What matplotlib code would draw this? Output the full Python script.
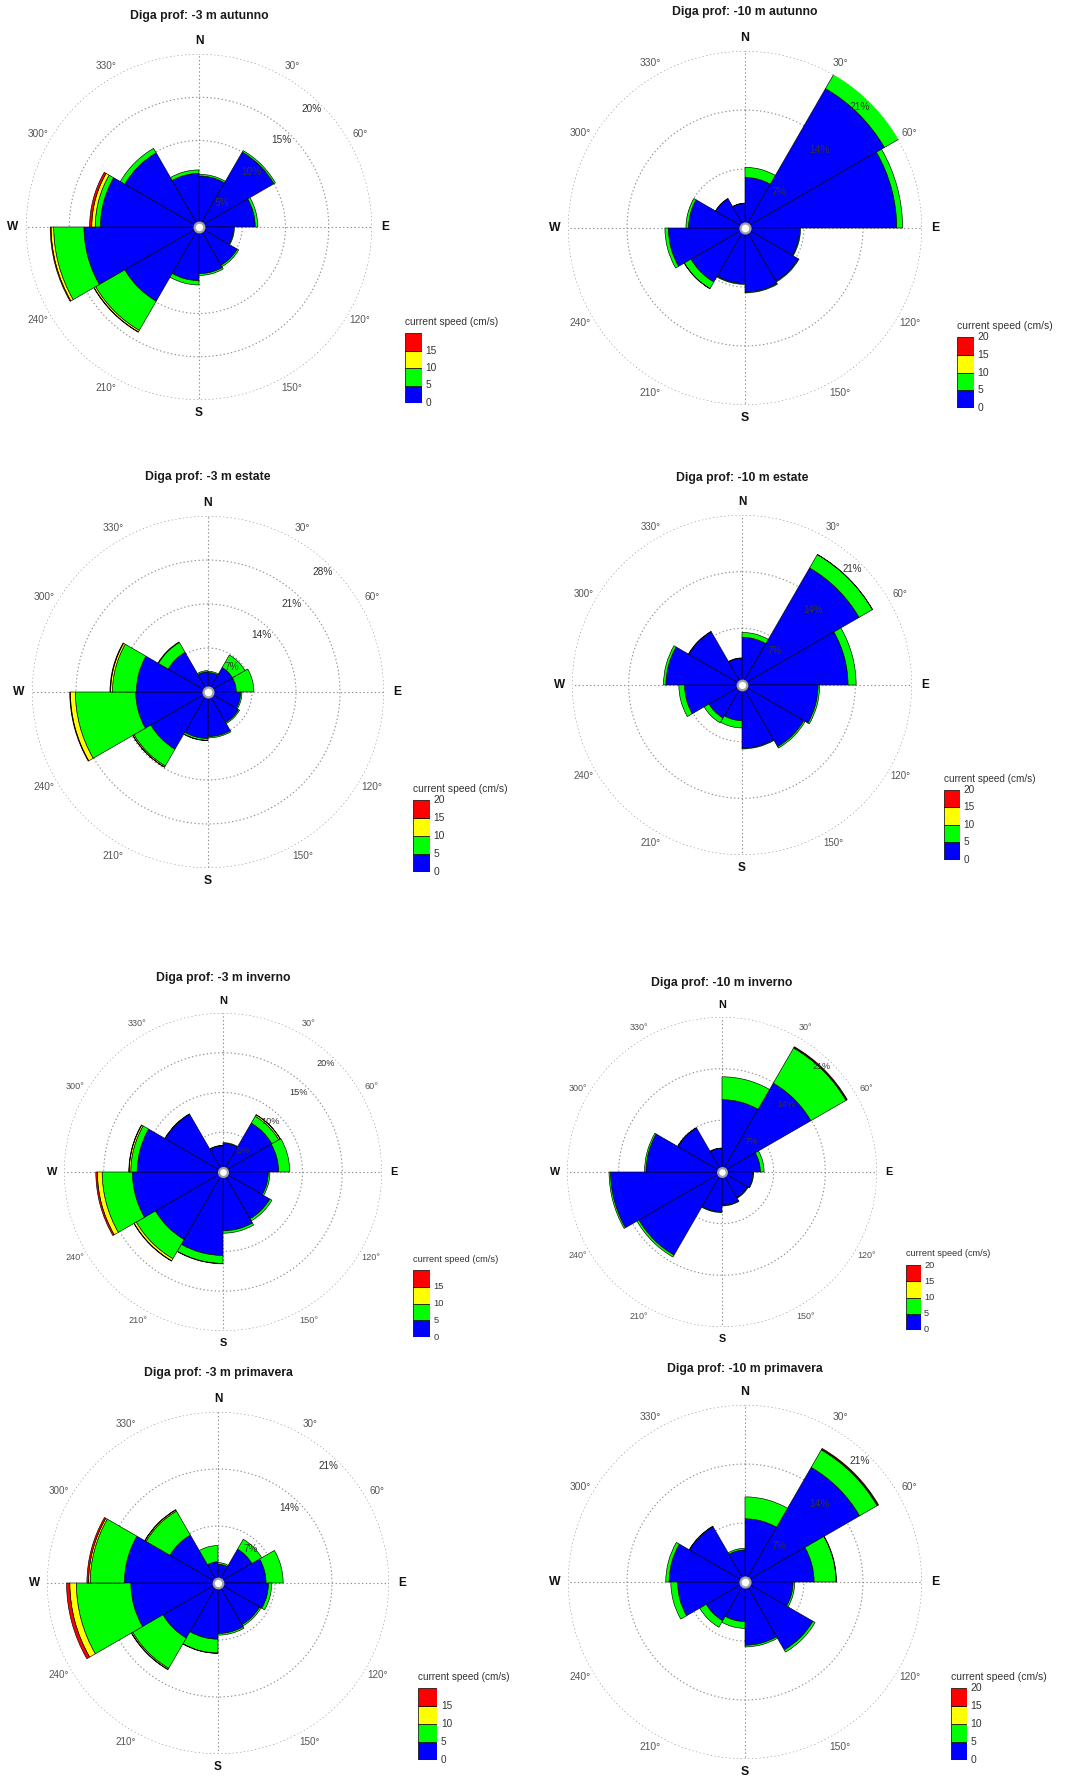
import numpy as np
import matplotlib
matplotlib.use('Agg')
import matplotlib.pyplot as plt

plt.rcParams['font.family'] = ['Liberation Sans', 'DejaVu Sans']

W, H = 1067, 1778

# ---------------- data ----------------
sector_start = list(range(0, 360, 30))          # direction sectors (deg, clockwise from N)
sector_width = 30
speed_bins = [0, 5, 10, 15, 20]                  # current speed classes (cm/s)
speed_colors = ['#0000ff', '#00ff00', '#ffff00', '#ff0000']
cardinal_labels = {0: 'N', 90: 'E', 180: 'S', 270: 'W'}
degree_ticks = [30, 60, 120, 150, 210, 240, 300, 330]

titles = ['Diga prof: -3 m autunno', 'Diga prof: -10 m autunno',
          'Diga prof: -3 m estate', 'Diga prof: -10 m estate',
          'Diga prof: -3 m inverno', 'Diga prof: -10 m inverno',
          'Diga prof: -3 m primavera', 'Diga prof: -10 m primavera']

# frequency (%) per sector and speed class
aut3_0_5   = [5.9, 10.0, 6.5, 4.0, 5.1, 5.4, 6.2, 9.9, 13.3, 11.4, 9.9, 6.2]
aut3_5_10  = [0.2, 0.2, 0.3, 0.1, 0.2, 0.2, 0.5, 3.9, 3.5, 0.6, 0.6, 0.4]
aut3_10_15 = [0, 0, 0, 0, 0, 0, 0, 0.2, 0.3, 0.4, 0, 0]
aut3_15_20 = [0, 0, 0, 0, 0, 0, 0, 0.05, 0.1, 0.25, 0, 0]

aut10_0_5   = [6.0, 19.1, 18.0, 6.5, 7.3, 7.6, 6.6, 7.4, 9.1, 6.7, 4.0, 2.9]
aut10_5_10  = [1.2, 2.0, 0.7, 0.1, 0.1, 0.1, 0.1, 0.9, 0.4, 0.3, 0.05, 0.05]
aut10_10_15 = [0, 0.05, 0, 0, 0, 0, 0, 0.03, 0, 0, 0, 0]
aut10_15_20 = [0, 0, 0, 0, 0, 0, 0, 0, 0, 0, 0, 0]

est3_0_5   = [3.1, 4.5, 4.5, 5.2, 5.6, 7.1, 7.4, 10.5, 11.5, 11.4, 7.3, 3.2]
est3_5_10  = [0.2, 2.3, 2.8, 0.2, 0.2, 0.2, 0.3, 3.1, 9.6, 3.8, 1.8, 0.2]
est3_10_15 = [0, 0, 0, 0, 0, 0, 0.05, 0.2, 0.8, 0.3, 0.1, 0]
est3_15_20 = [0, 0, 0, 0, 0, 0, 0, 0.03, 0.1, 0.1, 0, 0]

est10_0_5   = [5.9, 16.7, 13.1, 9.4, 8.8, 7.8, 4.4, 4.7, 7.1, 9.4, 7.6, 3.3]
est10_5_10  = [0.6, 1.9, 1.0, 0.2, 0.2, 0.1, 0.9, 0.7, 0.7, 0.3, 0.05, 0.05]
est10_10_15 = [0, 0.03, 0, 0, 0, 0, 0, 0, 0, 0, 0, 0]
est10_15_20 = [0, 0, 0, 0, 0, 0, 0, 0, 0, 0, 0, 0]

inv3_0_5   = [3.6, 7.1, 7.0, 5.7, 6.8, 7.4, 10.5, 9.8, 11.4, 10.8, 8.4, 3.3]
inv3_5_10  = [0.1, 1.0, 1.4, 0.2, 0.3, 0.3, 1.0, 2.8, 3.8, 0.8, 0.05, 0.05]
inv3_10_15 = [0, 0.2, 0, 0, 0, 0, 0.05, 0.3, 0.6, 0.2, 0, 0]
inv3_15_20 = [0, 0.03, 0, 0, 0, 0, 0, 0.05, 0.2, 0.05, 0, 0]

inv10_0_5   = [9.8, 13.9, 5.2, 4.2, 4.0, 4.5, 5.4, 13.0, 15.1, 10.3, 6.9, 3.2]
inv10_5_10  = [3.1, 5.5, 0.5, 0.1, 0.1, 0.1, 0.1, 0.3, 0.2, 0.2, 0.05, 0.05]
inv10_10_15 = [0, 0.1, 0, 0, 0, 0, 0, 0, 0, 0, 0, 0]
inv10_15_20 = [0, 0.1, 0, 0, 0, 0, 0, 0, 0, 0, 0, 0]

pri3_0_5   = [2.3, 4.8, 5.9, 6.2, 5.9, 6.2, 6.9, 7.8, 10.7, 11.5, 6.8, 2.6]
pri3_5_10  = [0.2, 1.4, 2.1, 0.4, 0.2, 0.2, 1.7, 4.3, 6.7, 4.2, 3.4, 2.0]
pri3_10_15 = [0, 0, 0, 0, 0, 0, 0.05, 0.15, 0.8, 0.2, 0.15, 0]
pri3_15_20 = [0, 0, 0, 0, 0, 0, 0, 0.05, 0.4, 0.2, 0.05, 0]

pri10_0_5   = [7.5, 15.7, 8.2, 5.7, 9.3, 7.5, 4.7, 5.3, 8.0, 9.0, 7.6, 3.8]
pri10_5_10  = [2.6, 2.4, 2.6, 0.2, 0.3, 0.2, 0.8, 0.9, 0.8, 0.4, 0.05, 0.2]
pri10_10_15 = [0, 0.1, 0.05, 0, 0, 0, 0, 0, 0, 0, 0, 0]
pri10_15_20 = [0, 0.1, 0, 0, 0, 0, 0, 0, 0, 0, 0, 0]

panel_data = [
    [aut3_0_5, aut3_5_10, aut3_10_15, aut3_15_20],
    [aut10_0_5, aut10_5_10, aut10_10_15, aut10_15_20],
    [est3_0_5, est3_5_10, est3_10_15, est3_15_20],
    [est10_0_5, est10_5_10, est10_10_15, est10_15_20],
    [inv3_0_5, inv3_5_10, inv3_10_15, inv3_15_20],
    [inv10_0_5, inv10_5_10, inv10_10_15, inv10_15_20],
    [pri3_0_5, pri3_5_10, pri3_10_15, pri3_15_20],
    [pri10_0_5, pri10_5_10, pri10_10_15, pri10_15_20],
]
panel_rings = [[5, 10, 15, 20], [7, 14, 21], [7, 14, 21, 28], [7, 14, 21],
               [5, 10, 15, 20], [7, 14, 21], [7, 14, 21], [7, 14, 21]]
legend_top_label = [False, True, True, True, False, True, False, True]

# ---------------- layout (pixels) ----------------
# center x, center y, radius, title y
rose_layout = [(199, 227, 173, 16), (745, 228, 177, 12),
               (208, 692, 176, 477), (742, 685, 170, 478),
               (223, 1172, 159, 978), (722, 1172, 155, 983),
               (218, 1583, 171, 1373), (745, 1582, 177, 1369)]
# legend box: x0, x1, y_top, y_bottom
legend_layout = [(405, 422, 333, 403), (957, 974, 337, 408),
                 (413, 430, 800, 872), (944, 960, 790, 860),
                 (413, 430, 1270, 1337), (906, 921, 1265, 1330),
                 (418, 437, 1688, 1760), (951, 967, 1688, 1760)]

fig = plt.figure(figsize=(W / 100, H / 100), dpi=100)
fig.patch.set_facecolor('white')

theta_c = np.deg2rad(np.array(sector_start) + sector_width / 2)
wid = np.deg2rad(sector_width)

for k in range(8):
    cx, cy, R, ty = rose_layout[k]
    rings = panel_rings[k]
    rmax = rings[-1]
    fs = R / 173.0
    ax = fig.add_axes([(cx - R) / W, 1 - (cy + R) / H, 2 * R / W, 2 * R / H],
                      projection='polar')
    ax.set_theta_zero_location('N')
    ax.set_theta_direction(-1)
    ax.set_ylim(0, rmax)
    ax.set_axis_off()

    # grid
    tt = np.linspace(0, 2 * np.pi, 400)
    for r in rings:
        ax.plot(tt, np.full_like(tt, r), color='#8c8c8c', lw=0.8,
                ls=(0, (1.2, 2.2)), zorder=0.5)
    for a in [0, 90, 180, 270]:
        ax.plot([np.deg2rad(a)] * 2, [0, rmax], color='#8c8c8c', lw=0.8,
                ls=(0, (1.2, 2.2)), zorder=0.5)

    # stacked sectors
    bottom = np.zeros(len(sector_start))
    for c, vals in enumerate(panel_data[k]):
        vals = np.array(vals, dtype=float)
        m = vals > 0
        ax.bar(theta_c[m], vals[m], width=wid, bottom=bottom[m],
               color=speed_colors[c], edgecolor='black', linewidth=0.45,
               align='center', zorder=2)
        bottom = bottom + vals

    # calm circle in the middle
    ax.plot([0], [0], 'o', ms=7 * fs, mfc='white', mec='#a0a0a0', mew=1.6,
            zorder=4)

    # direction labels
    for a, s in cardinal_labels.items():
        ax.text(np.deg2rad(a), rmax * 1.075, s, ha='center', va='center',
                fontsize=8.6 * fs, fontweight='bold', color='#111111',
                clip_on=False)
    for a in degree_ticks:
        ax.text(np.deg2rad(a), rmax * 1.075, f'{a}\u00b0', ha='center',
                va='center', fontsize=7.2 * fs, color='#555555', clip_on=False)
    # percentage labels
    for r in rings:
        rl = r - rmax * 10.0 / R
        ax.text(np.deg2rad(43.5), rl, f'{r}%', ha='center', va='center',
                fontsize=7.2 * fs, color='#333333', zorder=6, clip_on=False)

    fig.text(cx / W, 1 - ty / H, titles[k], ha='center', va='center',
             fontsize=8.8, fontweight='bold', color='#1a1a1a')

    # legend (colour scale)
    x0, x1, yt, yb = legend_layout[k]
    lax = fig.add_axes([x0 / W, 1 - yb / H, (x1 - x0) / W, (yb - yt) / H])
    lax.set_xlim(0, 1)
    lax.set_ylim(speed_bins[0], speed_bins[-1])
    lax.set_axis_off()
    for c in range(4):
        lax.bar([0.5], [speed_bins[c + 1] - speed_bins[c]], width=1.0,
                bottom=[speed_bins[c]], color=speed_colors[c],
                edgecolor='black', linewidth=0.5)
    labs = speed_bins if legend_top_label[k] else speed_bins[:-1]
    for v in labs:
        lax.text(1.2, v, str(v), ha='left', va='center', fontsize=7.3 * fs,
                 color='#333333', clip_on=False)
    fig.text(x0 / W, 1 - (yt - 11) / H, 'current speed (cm/s)', ha='left',
             va='center', fontsize=7.3 * fs, color='#333333')

fig.savefig('out.png', dpi=100, facecolor='white')
